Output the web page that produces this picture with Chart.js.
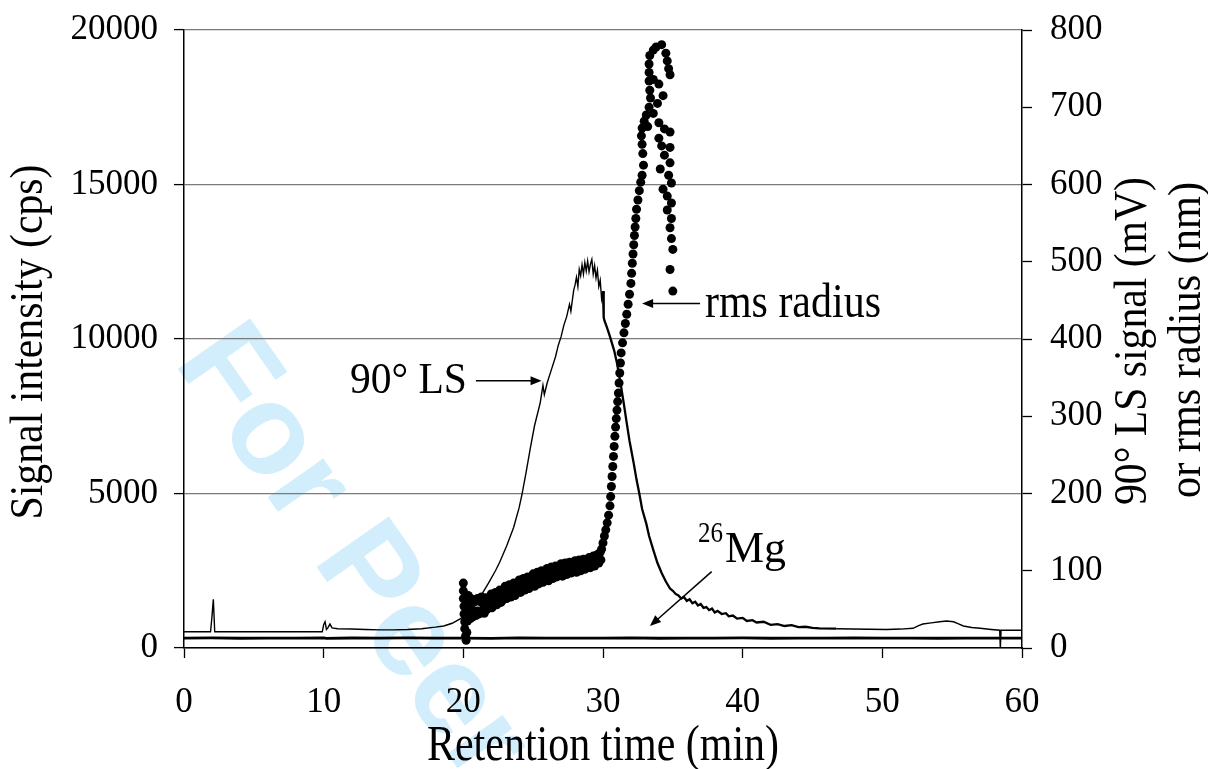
<!DOCTYPE html>
<html>
<head>
<meta charset="utf-8">
<script src="https://cdn.jsdelivr.net/npm/chart.js@4.4.1/dist/chart.umd.min.js"></script>
<style>
  html, body { margin: 0; padding: 0; background: #fff; }
  #wrap { width: 1208px; height: 769px; }
</style>
</head>
<body>
<div id="wrap"><canvas id="chart" width="1208" height="769"></canvas></div>
<script>
// retention time (min) ticks
const timeTicks = [0, 10, 20, 30, 40, 50, 60];

// 26Mg signal, left axis (cps)
const mgSignal = [
  [0, 320], [2, 326], [4, 316], [6, 322], [8, 318], [10, 330], [10.2, 314], [12, 324],
  [14, 318], [16, 326], [18, 318], [20, 322], [22, 314], [24, 326], [26, 318], [28, 322],
  [30, 318], [32, 328], [34, 316], [36, 322], [38, 318], [40, 326], [42, 316], [44, 322],
  [46, 318], [48, 324], [50, 318], [52, 322], [54, 316], [56, 322], [58, 318], [60, 322]
];

// 90° light scattering, right axis (mV)
const lsSignal = [
  [0, 21], [1.9, 21], [2.0, 40], [2.1, 63], [2.2, 21], [9.9, 21], [10.0, 30], [10.1, 34],
  [10.2, 24], [10.3, 26], [10.45, 31], [10.6, 26], [11, 25], [12, 24.5], [13, 24], [14, 23.5],
  [15, 23.5], [16, 24], [17, 25], [18, 27], [18.6, 28.5], [19.2, 32], [19.8, 38], [20.5, 50],
  [21.2, 66], [21.8, 84], [22.3, 100], [22.6, 111], [23.1, 132], [23.6, 156], [24.0, 182],
  [24.2, 199], [24.5, 228], [24.8, 259], [25.1, 288], [25.5, 317], [25.7, 340], [25.8, 328],
  [26.0, 343], [26.3, 360], [26.6, 377], [26.8, 392], [27.0, 403], [27.2, 418], [27.4, 429],
  [27.6, 445], [27.7, 436], [27.9, 463], [28.0, 470], [28.1, 480], [28.2, 468], [28.3, 490],
  [28.4, 482], [28.5, 496], [28.6, 484], [28.7, 499], [28.8, 488], [28.9, 501], [29.0, 487],
  [29.1, 497], [29.2, 503], [29.3, 484], [29.4, 495], [29.5, 479], [29.6, 489], [29.7, 468],
  [29.8, 476], [29.9, 452], [30.0, 462], [30.05, 428], [30.1, 424], [30.3, 414], [30.5, 403],
  [30.8, 385], [31.0, 369], [31.3, 338], [31.5, 315], [31.7, 291], [31.9, 268], [32.2, 239],
  [32.4, 218], [32.6, 200], [32.8, 180], [33.1, 161], [33.3, 145], [33.6, 127], [33.9, 110],
  [34.2, 97], [34.5, 86], [34.8, 77], [35.0, 74], [35.2, 70], [35.4, 68], [35.6, 64],
  [35.8, 66], [36.0, 61], [36.2, 63], [36.4, 58], [36.6, 60], [36.8, 55], [37.0, 57],
  [37.2, 52], [37.4, 53], [37.6, 49], [37.8, 51], [38.0, 46], [38.2, 48], [38.5, 44],
  [38.8, 45], [39.0, 41], [39.3, 42], [39.6, 38], [40.0, 39], [40.3, 35], [40.7, 36],
  [41.0, 33], [41.5, 34], [42.0, 30], [42.5, 31], [43.0, 28.5], [43.5, 29.5], [44.0, 27],
  [44.5, 27.5], [45.0, 26], [45.5, 25.5], [46.7, 25], [47.9, 24.6], [49.1, 24.3], [50.3, 24],
  [51.3, 24.5], [52.2, 25.5], [52.6, 29], [52.9, 31], [53.5, 32.5], [54.1, 34], [54.6, 35],
  [55.1, 34], [55.5, 31], [55.8, 28.5], [56.4, 26.5], [57.0, 25.5], [57.8, 24], [58.4, 23],
  [58.45, 0], [58.5, 23], [60, 23]
];

// rms radius, right axis (nm)
const rmsRadius = [
  [20.0, 84], [20.0, 74], [20.0, 64], [20.05, 54], [20.05, 44], [20.1, 34], [20.1, 25], [20.15, 15],
  [20.2, 10], [20.25, 20], [20.3, 35], [20.3, 58], [20.35, 68], [20.4, 45], [20.45, 60], [20.5, 38],
  [20.55, 64], [20.6, 50], [20.65, 40], [20.7, 62], [20.8, 46], [20.85, 60], [20.9, 42], [21.0, 64],
  [21.0, 48], [21.1, 44], [21.2, 60], [21.3, 66], [21.35, 48], [21.45, 56], [21.5, 45], [21.6, 65],
  [21.7, 50], [21.8, 62], [21.9, 53], [22.0, 70], [22.05, 52], [22.2, 63], [22.3, 72], [22.4, 56],
  [22.5, 67], [22.6, 75], [22.7, 59], [22.8, 71], [22.9, 63], [23.0, 80], [23.1, 64], [23.2, 73],
  [23.3, 82], [23.4, 66], [23.5, 77], [23.6, 84], [23.7, 68], [23.8, 80], [23.9, 72], [24.0, 88],
  [24.1, 72], [24.2, 82], [24.3, 90], [24.4, 75], [24.5, 85], [24.6, 92], [24.7, 77], [24.8, 88],
  [24.9, 81], [25.0, 96], [25.1, 80], [25.2, 90], [25.3, 98], [25.4, 83], [25.5, 93], [25.6, 100],
  [25.7, 85], [25.8, 96], [25.9, 89], [26.0, 103], [26.1, 87], [26.2, 97], [26.3, 105], [26.4, 90],
  [26.5, 99], [26.6, 106], [26.7, 92], [26.8, 102], [26.9, 95], [27.0, 109], [27.1, 93], [27.2, 103],
  [27.3, 110], [27.4, 95], [27.5, 105], [27.6, 111], [27.7, 97], [27.8, 107], [27.9, 100], [28.0, 113],
  [28.1, 98], [28.2, 108], [28.3, 114], [28.4, 100], [28.5, 109], [28.6, 115], [28.7, 102], [28.8, 111],
  [28.9, 104], [29.0, 117], [29.1, 104], [29.2, 113], [29.3, 119], [29.4, 106], [29.5, 115], [29.6, 121],
  [29.7, 110], [29.8, 124], [29.85, 114], [29.9, 128], [30.0, 136], [30.1, 145], [30.2, 153], [30.3, 162],
  [30.4, 172], [30.5, 184], [30.55, 196], [30.6, 209], [30.65, 222], [30.7, 235], [30.75, 248], [30.8, 261],
  [30.85, 274], [30.9, 286], [30.95, 297], [31.0, 308], [31.05, 319], [31.1, 330], [31.15, 343], [31.2, 356],
  [31.25, 369], [31.3, 382], [31.4, 395], [31.5, 408], [31.6, 420], [31.7, 432], [31.8, 445], [31.9, 458],
  [32.0, 472], [32.05, 485], [32.1, 498], [32.15, 510], [32.2, 522], [32.25, 534], [32.3, 545], [32.35, 556],
  [32.4, 568], [32.5, 580], [32.6, 592], [32.7, 603], [32.8, 612], [32.9, 625], [32.85, 640], [32.8, 652],
  [32.75, 663], [32.8, 673], [32.95, 682], [33.1, 690], [33.3, 700], [33.4, 712], [33.35, 722], [33.3, 734],
  [33.3, 745], [33.3, 756], [33.35, 767], [33.6, 774], [33.8, 778], [34.2, 781], [34.5, 770], [34.6, 760],
  [34.7, 750], [34.8, 742], [33.6, 736], [34.0, 730], [34.3, 715], [33.9, 705], [33.6, 692], [34.0, 680],
  [34.4, 672], [34.8, 668], [33.2, 675], [34.0, 660], [34.2, 650], [34.8, 648], [34.4, 638], [34.8, 628],
  [34.1, 620], [34.7, 612], [34.9, 602], [34.3, 594], [34.6, 585], [34.9, 576], [34.6, 567], [34.9, 556],
  [34.8, 544], [34.9, 530], [35.0, 516], [34.8, 490], [35.0, 462]
];

const serif = '"Liberation Serif", "Times New Roman", serif';
const toXY = arr => arr.map(p => ({ x: p[0], y: p[1] }));

// text squeezed/stretched to a given width
function fitText(ctx, text, x, y, size, width, align, angle) {
  ctx.save();
  ctx.translate(x, y);
  if (angle) ctx.rotate(angle);
  ctx.font = size + 'px ' + serif;
  const w = ctx.measureText(text).width;
  ctx.scale(width / w, 1);
  ctx.textAlign = align;
  ctx.fillStyle = '#000';
  ctx.fillText(text, 0, 0);
  ctx.restore();
}

function arrow(ctx, x1, y1, x2, y2) {
  const a = Math.atan2(y2 - y1, x2 - x1);
  ctx.save();
  ctx.strokeStyle = '#000';
  ctx.fillStyle = '#000';
  ctx.lineWidth = 1.5;
  ctx.beginPath();
  ctx.moveTo(x1, y1);
  ctx.lineTo(x2 - 8 * Math.cos(a), y2 - 8 * Math.sin(a));
  ctx.stroke();
  ctx.translate(x2, y2);
  ctx.rotate(a);
  ctx.beginPath();
  ctx.moveTo(0, 0);
  ctx.lineTo(-11, -4.5);
  ctx.lineTo(-11, 4.5);
  ctx.closePath();
  ctx.fill();
  ctx.restore();
}

const watermark = {
  id: 'watermark',
  beforeDraw(chart) {
    const ctx = chart.ctx;
    ctx.save();
    ctx.fillStyle = '#fff';
    ctx.fillRect(0, 0, chart.width, chart.height);
    ctx.translate(173, 362);
    ctx.rotate(55 * Math.PI / 180);
    ctx.font = 'bold 128px "Liberation Sans", Arial, sans-serif';
    ctx.fillStyle = '#d2eefc';
    ctx.fillText('For Peer Review', 0, 0);
    ctx.restore();
  }
};

const labels = {
  id: 'labels',
  afterDraw(chart) {
    const ctx = chart.ctx;
    const xs = chart.scales.x, yr = chart.scales.y1;
    const px = v => xs.getPixelForValue(v);
    const py = v => yr.getPixelForValue(v);
    const area = chart.chartArea;

    // axis titles
    fitText(ctx, 'Retention time (min)', (area.left + area.right) / 2, 760, 50, 352, 'center', 0);
    ctx.save(); ctx.textBaseline = 'middle';
    fitText(ctx, 'Signal intensity (cps)', 30, 342, 46, 355, 'center', -Math.PI / 2);
    fitText(ctx, '90\u00b0 LS signal (mV)', 1134, 341, 46, 328, 'center', -Math.PI / 2);
    fitText(ctx, 'or rms radius (nm)', 1188, 340, 46, 316, 'center', -Math.PI / 2);
    ctx.restore();

    // 90° LS
    fitText(ctx, '90\u00b0 LS', px(20.26), py(330), 45, 117, 'right', 0);
    arrow(ctx, px(20.9), py(346), px(25.6), py(346));
    // rms radius
    fitText(ctx, 'rms radius', px(37.3), py(428.5), 48, 176, 'left', 0);
    arrow(ctx, px(36.95), py(446), px(32.8), py(446));
    // 26Mg
    fitText(ctx, '26', px(36.8), py(137), 30, 25, 'left', 0);
    fitText(ctx, 'Mg', px(38.73), py(111), 45, 61, 'left', 0);
    arrow(ctx, px(37.78), py(98.8), px(33.36), py(28.5));
  }
};

const tickFont = { family: serif, size: 35 };
const noVPad = s => { s.paddingTop = 0; s.paddingBottom = 0; };

new Chart(document.getElementById('chart'), {
  type: 'line',
  data: {
    datasets: [
      {
        label: '26Mg',
        data: toXY(mgSignal),
        yAxisID: 'y',
        borderColor: '#000',
        borderWidth: 2.8,
        pointRadius: 0,
        tension: 0
      },
      {
        label: '90° LS',
        data: toXY(lsSignal),
        yAxisID: 'y1',
        borderColor: '#000',
        borderWidth: 1.4,
        pointRadius: 0,
        tension: 0,
        // the noisy tail reads thicker in the original trace
        segment: {
          borderWidth: c => (c.p0.parsed.x >= 30 && c.p0.parsed.x < 46) ? 2.3 : 1.4
        }
      },
      {
        label: 'rms radius',
        data: toXY(rmsRadius),
        yAxisID: 'y1',
        showLine: false,
        pointRadius: 4.5,
        pointBackgroundColor: '#000',
        pointBorderWidth: 0,
        borderColor: '#000'
      }
    ]
  },
  options: {
    responsive: false,
    animation: false,
    events: [],
    layout: { padding: { top: 30, left: 0, right: 0, bottom: 0 } },
    plugins: {
      legend: { display: false },
      tooltip: { enabled: false }
    },
    scales: {
      x: {
        type: 'linear',
        min: 0,
        max: 60,
        afterBuildTicks: s => { s.ticks = timeTicks.map(v => ({ value: v })); },
        afterFit: s => { s.height = 121; s.paddingLeft = 0; s.paddingRight = 0; },
        grid: { drawOnChartArea: false, tickLength: 10, tickColor: '#000', tickWidth: 1.3 },
        border: { color: '#000', width: 1.5 },
        ticks: { color: '#000', font: tickFont, padding: 24, maxRotation: 0 }
      },
      y: {
        position: 'left',
        min: 0,
        max: 20000,
        ticks: { stepSize: 5000, color: '#000', font: tickFont, padding: 16, callback: v => String(v) },
        afterFit: s => { s.width = 184; noVPad(s); },
        grid: { color: '#7a7a7a', lineWidth: 1.2, tickLength: 10, tickColor: '#000', tickWidth: 1.3 },
        border: { color: '#000', width: 1.5 }
      },
      y1: {
        position: 'right',
        min: 0,
        max: 800,
        ticks: { stepSize: 100, color: '#000', font: tickFont, padding: 18, callback: v => String(v) },
        afterFit: s => { s.width = 186; noVPad(s); },
        grid: { drawOnChartArea: false, tickLength: 10, tickColor: '#000', tickWidth: 1.3 },
        border: { color: '#000', width: 1.5 }
      }
    }
  },
  plugins: [watermark, labels]
});
</script>
</body>
</html>
